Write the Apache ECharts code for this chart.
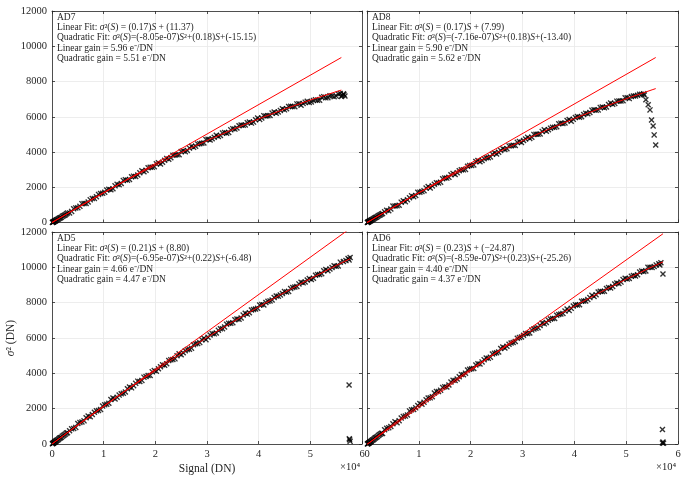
<!DOCTYPE html>
<html>
<head>
<meta charset="utf-8">
<script src="https://cdn.jsdelivr.net/npm/echarts@6/dist/echarts.min.js"></script>
<style>
html, body { margin: 0; padding: 0; background: #fff; }
#main { width: 687px; height: 477px; }
</style>
</head>
<body>
<div id="main"></div>
<script>
// signal levels (DN), shared by the 4 channels
var signal = [150, 300, 500, 700, 900, 1200, 1500, 1800, 2200, 2600,
  3000, 3800, 4600, 5400, 6200, 7000, 7800, 8600, 9400, 10200,
  11000, 11800, 12600, 13400, 14200, 15000, 15800, 16600, 17400, 18200,
  19000, 19800, 20600, 21400, 22200, 23000, 23800, 24600, 25400, 26200,
  27000, 27800, 28600, 29400, 30200, 31000, 31800, 32600, 33400, 34200,
  35000, 35800, 36600, 37400, 38200, 39000, 39800, 40600, 41400, 42200,
  43000, 43800, 44600, 45400, 46200, 47000, 47800, 48600, 49400, 50200,
  51000, 51800, 52600, 53400, 54200, 55000, 55800];

// variance (DN^2) at each signal level
var varAD7 = [14, 34, 82, 104, 151, 192, 259, 298, 383, 440,
  536, 630, 829, 916, 1077, 1167, 1366, 1464, 1646, 1712,
  1882, 1916, 2164, 2216, 2432, 2441, 2630, 2698, 2940, 2965,
  3135, 3164, 3391, 3423, 3638, 3673, 3826, 3844, 4065, 4085,
  4330, 4323, 4465, 4507, 4727, 4751, 4949, 4936, 5102, 5102,
  5326, 5364, 5536, 5532, 5697, 5696, 5929, 5926, 6047, 6071,
  6265, 6268, 6454, 6450, 6600, 6573, 6741, 6757, 6883, 6842,
  6971, 6943, 7140, 7085, 7184, 7172, 7315];
var varAD8 = [16, 36, 81, 104, 150, 192, 257, 296, 379, 435,
  505, 692, 764, 939, 979, 1232, 1290, 1512, 1528, 1723,
  1797, 2045, 2077, 2254, 2289, 2523, 2562, 2785, 2826, 2987,
  3012, 3241, 3269, 3521, 3522, 3673, 3722, 3951, 3983, 4190,
  4186, 4360, 4369, 4602, 4649, 4830, 4836, 5010, 5018, 5261,
  5267, 5398, 5433, 5637, 5649, 5846, 5853, 6013, 5997, 6195,
  6243, 6399, 6390, 6549, 6553, 6781, 6758, 6889, 6909, 7083,
  7146, 7183, 7280, 7300, null, null, null];
var varAD5 = [30, 55, 112, 143, 200, 252, 333, 384, 488, 560,
  634, 858, 940, 1223, 1309, 1579, 1668, 1877, 1949, 2226,
  2302, 2602, 2651, 2849, 2946, 3223, 3303, 3558, 3601, 3824,
  3881, 4162, 4257, 4487, 4540, 4762, 4819, 5110, 5164, 5343,
  5426, 5678, 5740, 5985, 6040, 6248, 6281, 6528, 6624, 6829,
  6868, 7076, 7128, 7405, 7430, 7610, 7679, 7902, 8014, 8100,
  8290, 8369, 8523, 8605, 8797, 8888, 9063, 9122, 9285, 9312,
  9553, 9599, 9808, 9812, 9995, 10057, 10293];
var varAD6 = [12, 40, 96, 130, 188, 243, 326, 379, 486, 560,
  597, 892, 990, 1262, 1323, 1563, 1637, 1934, 2046, 2292,
  2361, 2599, 2672, 2978, 3048, 3242, 3340, 3606, 3682, 3941,
  4010, 4232, 4278, 4539, 4648, 4866, 4917, 5138, 5203, 5491,
  5529, 5720, 5800, 6035, 6158, 6255, 6455, 6545, 6709, 6801,
  7003, 7103, 7287, 7355, 7528, 7563, 7813, 7867, 8085, 8096,
  8287, 8356, 8599, 8626, 8798, 8827, 9056, 9089, 9306, 9341,
  9496, 9514, 9736, 9758, 10003, 9997, 10139];

// second sweep of frames, in between the first one
var signalB = [3400, 4200, 5000, 5800, 6600, 7400, 8200, 9000, 9800, 10600,
  11400, 12200, 13000, 13800, 14600, 15400, 16200, 17000, 17800, 18600,
  19400, 20200, 21000, 21800, 22600, 23400, 24200, 25000, 25800, 26600,
  27400, 28200, 29000, 29800, 30600, 31400, 32200, 33000, 33800, 34600,
  35400, 36200, 37000, 37800, 38600, 39400, 40200, 41000, 41800, 42600,
  43400, 44200, 45000, 45800, 46600, 47400, 48200, 49000, 49800, 50600,
  51400, 52200, 53000, 53800, 54600, 55400];
var varBAD7 = [546, 780, 843, 1069, 1080, 1284, 1368, 1595, 1657, 1847,
  1862, 2080, 2138, 2389, 2404, 2593, 2612, 2824, 2875, 3110,
  3140, 3328, 3320, 3526, 3591, 3820, 3843, 4025, 4020, 4220,
  4264, 4457, 4494, 4705, 4679, 4833, 4875, 5072, 5062, 5257,
  5300, 5488, 5514, 5665, 5639, 5828, 5850, 6062, 6057, 6206,
  6199, 6361, 6392, 6583, 6582, 6730, 6652, 6828, 6813, 6927,
  6940, 7107, 7073, 7192, 7141, 7289];
var varBAD8 = [604, 671, 932, 957, 1156, 1184, 1406, 1468, 1713, 1753,
  1951, 1954, 2171, 2247, 2486, 2520, 2714, 2721, 2932, 2987,
  3192, 3240, 3463, 3449, 3615, 3670, 3879, 3882, 4089, 4146,
  4346, 4385, 4548, 4536, 4737, 4773, 4998, 5007, 5170, 5177,
  5353, 5398, 5603, 5616, 5788, 5745, 5956, 5975, 6124, 6172,
  6374, 6375, 6530, 6514, 6697, 6705, 6886, 6897, 7071, 7030,
  7182, 7214, 7270, null, null, null];
var varBAD5 = [751, 874, 1162, 1244, 1484, 1539, 1798, 1901, 2153, 2249,
  2520, 2554, 2768, 2870, 3127, 3178, 3433, 3537, 3785, 3873,
  4084, 4120, 4370, 4454, 4726, 4783, 4995, 5050, 5274, 5367,
  5620, 5682, 5903, 5908, 6167, 6235, 6432, 6529, 6779, 6829,
  7032, 7065, 7297, 7353, 7583, 7642, 7866, 7873, 8075, 8155,
  8380, 8439, 8627, 8639, 8855, 8911, 9160, 9174, 9361, 9378,
  9589, 9639, 9873, 9901, 10089, 10080];
var varBAD6 = [807, 916, 1149, 1205, 1476, 1580, 1873, 1950, 2182, 2257,
  2500, 2613, 2885, 2966, 3205, 3229, 3506, 3592, 3807, 3921,
  4189, 4255, 4476, 4526, 4775, 4847, 5093, 5168, 5407, 5430,
  5647, 5743, 5983, 6057, 6259, 6285, 6515, 6585, 6848, 6875,
  7076, 7105, 7329, 7392, 7638, 7678, 7878, 7881, 8098, 8174,
  8414, 8448, 8640, 8647, 8858, 8912, 9115, 9163, 9384, 9369,
  9533, 9585, 9792, 9793, 9998, 10051];

// extra low-signal frames (dark blob at the origin)
var lowSignal = [80, 250, 400, 600, 800, 1050, 1350, 1650, 2000, 2400, 2800];
var lowAD7 = [5, 28, 62, 88, 133, 168, 231, 274, 349, 407, 490];
var lowAD8 = [3, 31, 55, 94, 126, 175, 222, 284, 338, 418, 478];
var lowAD5 = [15, 44, 88, 122, 177, 221, 300, 353, 444, 518, 620];
var lowAD6 = [4, 36, 62, 118, 152, 222, 278, 360, 426, 530, 605];

// saturation end / outliers [signal, variance]
var tailAD7 = [[56000, 7150], [56200, 7210], [56400, 7300], [56500, 7260], [56700, 7180]];
var tailAD8 = [[53500, 7230], [53800, 6960], [54250, 6680], [54600, 6390], [54900, 5820], [55200, 5480], [55400, 4970], [55700, 4400]];
var tailAD5 = [[56400, 10330], [56900, 10380], [57300, 10500], [57500, 10420], [57700, 10560], [57500, 3340], [57550, 300], [57600, 240], [57700, 150]];
var tailAD6 = [[56300, 10200], [56500, 10130], [56700, 10260], [57100, 9620], [57000, 820], [57000, 60], [57100, 110], [57200, 40]];

// fitted curves
var fitSignal = [0, 5000, 10000, 15000, 20000, 25000, 30000, 35000, 40000, 45000, 50000, 55000];
var quadAD7 = [-15, 862, 1700, 2496, 3253, 3969, 4646, 5281, 5877, 6432, 6948, 7422];
var quadAD8 = [-13, 852, 1680, 2473, 3231, 3952, 4638, 5287, 5901, 6480, 7022, 7529];
var quadAD5 = [-6, 1087, 2145, 3168, 4156, 5110, 6029, 6913, 7762, 8577, 9357, 10102];
var quadAD6 = [-25, 1104, 2189, 3232, 4231, 5188, 6102, 6973, 7801, 8586, 9328, 10027];
var fitEndSignal = [56000, 55700, 57700, 57100];
var quadEnd = [7513, 7597, 10489, 10307];
var linAD7 = [[0, 11], [56000, 9360]];
var linAD8 = [[0, 8], [55700, 9360]];
var linAD5 = [[0, 9], [57700, 12200]];
var linAD6 = [[0, -25], [57100, 11900]];

var xTicks = ['0', '1', '2', '3', '4', '5', '6'];

var panelNames = ['AD7', 'AD8', 'AD5', 'AD6'];
var panelText = [
  ['AD7',
   'Linear Fit: {i|σ}²({i|S}) = (0.17){i|S} + (11.37)',
   'Quadratic Fit: {i|σ}²({i|S})=(-8.05e-07){i|S}²+(0.18){i|S}+(-15.15)',
   'Linear gain = 5.96 e⁻/DN',
   'Quadratic gain = 5.51 e⁻/DN'],
  ['AD8',
   'Linear Fit: {i|σ}²({i|S}) = (0.17){i|S} + (7.99)',
   'Quadratic Fit: {i|σ}²({i|S})=(-7.16e-07){i|S}²+(0.18){i|S}+(-13.40)',
   'Linear gain = 5.90 e⁻/DN',
   'Quadratic gain = 5.62 e⁻/DN'],
  ['AD5',
   'Linear Fit: {i|σ}²({i|S}) = (0.21){i|S} + (8.80)',
   'Quadratic Fit: {i|σ}²({i|S})=(-6.95e-07){i|S}²+(0.22){i|S}+(-6.48)',
   'Linear gain = 4.66 e⁻/DN',
   'Quadratic gain = 4.47 e⁻/DN'],
  ['AD6',
   'Linear Fit: {i|σ}²({i|S}) = (0.23){i|S} + (−24.87)',
   'Quadratic Fit: {i|σ}²({i|S})=(-8.59e-07){i|S}²+(0.23){i|S}+(-25.26)',
   'Linear gain = 4.40 e⁻/DN',
   'Quadratic gain = 4.37 e⁻/DN']
];

var variances = [varAD7, varAD8, varAD5, varAD6];
var variancesB = [varBAD7, varBAD8, varBAD5, varBAD6];
var lows = [lowAD7, lowAD8, lowAD5, lowAD6];
var tails = [tailAD7, tailAD8, tailAD5, tailAD6];
var quads = [quadAD7, quadAD8, quadAD5, quadAD6];
var lins = [linAD7, linAD8, linAD5, linAD6];

var SERIF = 'Liberation Serif';
var INK = '#262626';
var crossPath = 'path://M0,1.6L1.6,0L5,3.4L8.4,0L10,1.6L6.6,5L10,8.4L8.4,10L5,6.6L1.6,10L0,8.4L3.4,5Z';

// grid boxes: left col / right col, top row / bottom row
var grids = [
  { left: 52, top: 11, width: 310, height: 211.5 },
  { left: 367, top: 11, width: 311, height: 211.5 },
  { left: 52, top: 232, width: 310, height: 212 },
  { left: 367, top: 232, width: 311, height: 212 }
];

function pairs(xs, ys) {
  var out = [];
  for (var j = 0; j < xs.length; j++) {
    if (ys[j] != null) out.push([xs[j], ys[j]]);
  }
  return out;
}

function xAxisFor(g, pos) {
  var showLabel = pos === 'bottom' && g >= 2;
  return {
    type: 'value', gridIndex: g, position: pos,
    min: 0, max: 60000, interval: 10000,
    axisLine: { show: true, onZero: false, lineStyle: { color: INK, width: 0.8 } },
    axisTick: { show: true, inside: true, length: 3, lineStyle: { color: INK, width: 0.8 } },
    axisLabel: {
      show: showLabel, margin: 5, color: INK, fontFamily: SERIF, fontSize: 10.5,
      formatter: function (v) { return xTicks[Math.round(v / 10000)]; }
    },
    splitLine: { show: pos === 'bottom', lineStyle: { color: '#e8e8e8', width: 0.8 } },
    name: (pos === 'bottom' && g === 2) ? 'Signal (DN)' : '',
    nameLocation: 'middle', nameGap: 19,
    nameTextStyle: { fontFamily: SERIF, fontSize: 11.5, color: INK }
  };
}

function yAxisFor(g, pos) {
  var showLabel = pos === 'left' && (g === 0 || g === 2);
  return {
    type: 'value', gridIndex: g, position: pos,
    min: 0, max: 12000, interval: 2000,
    axisLine: { show: true, onZero: false, lineStyle: { color: INK, width: 0.8 } },
    axisTick: { show: true, inside: true, length: 3, lineStyle: { color: INK, width: 0.8 } },
    axisLabel: {
      show: showLabel, margin: 5, color: INK, fontFamily: SERIF, fontSize: 10.5,
      formatter: function (v) { return String(v); }
    },
    splitLine: { show: pos === 'left', lineStyle: { color: '#e8e8e8', width: 0.8 } },
    name: (pos === 'left' && g === 2) ? '{i|σ}² (DN)' : '',
    nameLocation: 'middle', nameGap: 34,
    nameTextStyle: {
      fontFamily: SERIF, fontSize: 11.5, color: INK,
      rich: { i: { fontFamily: SERIF, fontSize: 11.5, fontStyle: 'italic', color: INK } }
    }
  };
}

var xAxes = [], yAxes = [], series = [], graphics = [];
for (var g = 0; g < 4; g++) {
  xAxes.push(xAxisFor(g, 'bottom'), xAxisFor(g, 'top'));
  yAxes.push(yAxisFor(g, 'left'), yAxisFor(g, 'right'));

  var pts = pairs(lowSignal, lows[g])
    .concat(pairs(signal, variances[g]))
    .concat(pairs(signalB, variancesB[g]))
    .concat(tails[g]);

  var quadPts = pairs(fitSignal, quads[g]);
  quadPts.push([fitEndSignal[g], quadEnd[g]]);

  series.push({
    name: panelNames[g] + ' data', type: 'scatter',
    xAxisIndex: 2 * g, yAxisIndex: 2 * g,
    symbol: crossPath, symbolSize: 6,
    itemStyle: { color: '#000' },
    data: pts
  });
  series.push({
    name: panelNames[g] + ' linear', type: 'line',
    xAxisIndex: 2 * g, yAxisIndex: 2 * g,
    symbol: 'none', clip: true,
    lineStyle: { color: '#ff0000', width: 1 },
    data: lins[g], z: 5
  });
  series.push({
    name: panelNames[g] + ' quadratic', type: 'line',
    xAxisIndex: 2 * g, yAxisIndex: 2 * g,
    symbol: 'none', clip: true,
    lineStyle: { color: '#ff0000', width: 1 },
    data: quadPts, z: 5
  });

  graphics.push({
    type: 'text',
    left: grids[g].left + 5,
    top: grids[g].top + 1,
    z: 10,
    style: {
      text: panelText[g].join('\n'),
      fontFamily: SERIF, fontSize: 9.5, lineHeight: 10.3,
      fill: INK,
      rich: { i: { fontFamily: SERIF, fontSize: 9.5, fontStyle: 'italic', lineHeight: 10.3, fill: INK } }
    }
  });
}

// x10^4 exponent labels under the bottom panels
graphics.push({
  type: 'text', left: 340, top: 462,
  style: { text: '×10⁴', fontFamily: SERIF, fontSize: 10.5, fill: INK }
});
graphics.push({
  type: 'text', left: 656, top: 462,
  style: { text: '×10⁴', fontFamily: SERIF, fontSize: 10.5, fill: INK }
});

var myChart = echarts.init(document.getElementById('main'));
myChart.setOption({
  animation: false,
  backgroundColor: '#fff',
  grid: grids,
  xAxis: xAxes,
  yAxis: yAxes,
  series: series,
  graphic: graphics
});
</script>
</body>
</html>
